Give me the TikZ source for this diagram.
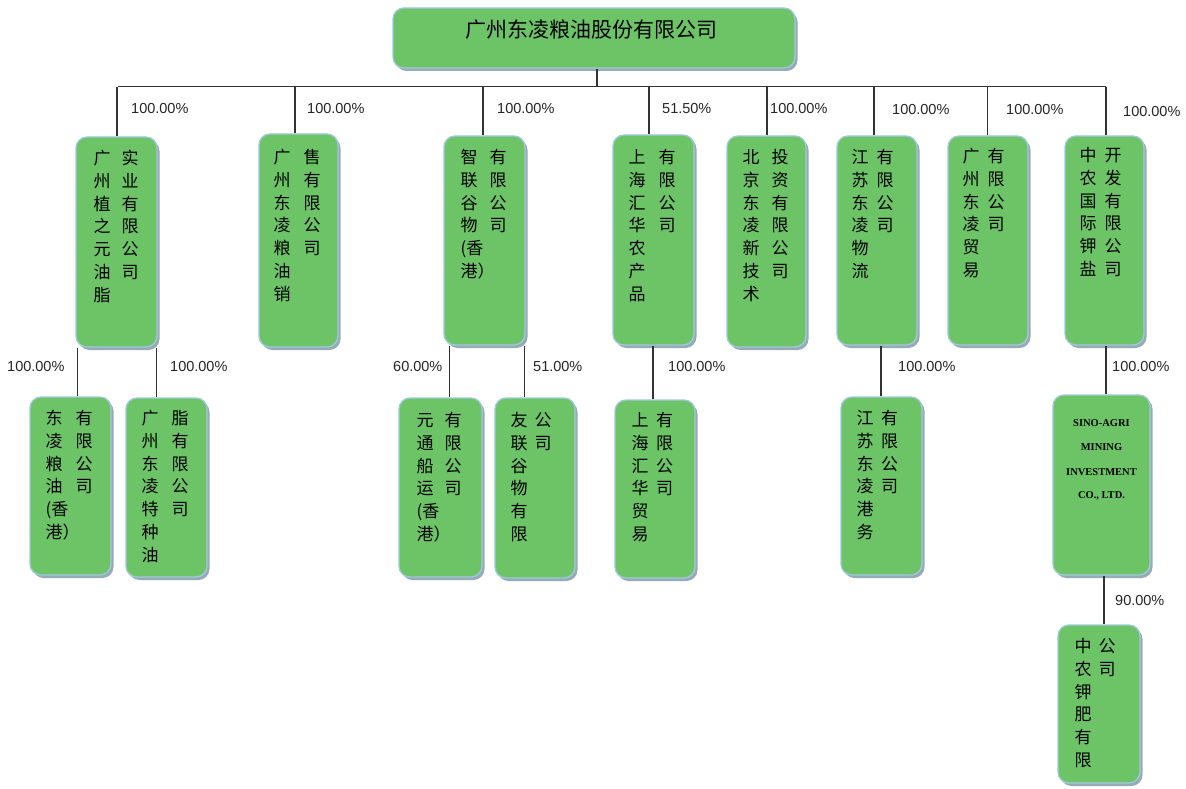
\documentclass[tikz,border=0pt]{standalone}
\usepackage{fontspec}
\setmainfont{Liberation Sans}
\newfontfamily\cjk{Noto Sans CJK SC}
\newfontfamily\sino{Liberation Serif}
\usetikzlibrary{shadows}
\definecolor{boxgreen}{RGB}{108,196,103}
\definecolor{boxedge}{RGB}{160,200,220}
\definecolor{shadowc}{RGB}{125,150,165}
\definecolor{linec}{RGB}{50,50,50}
\tikzset{
  orgbox/.style={draw=boxedge, line width=1.3pt, fill=boxgreen, rounded corners=11pt, inner sep=0pt,
    drop shadow={shadow xshift=2.5pt, shadow yshift=-3pt, fill=shadowc, opacity=0.8}},
  pct/.style={anchor=west, inner sep=0pt, font=\fontsize{14.5}{16}\selectfont, text=black!85},
  conn/.style={draw=linec, line width=1.1pt},
  ch/.style={anchor=base west, inner sep=0pt, font=\cjk\fontsize{17}{17}\selectfont},
  sinotext/.style={inner sep=0pt, font=\sino\bfseries\fontsize{10.5}{12}\selectfont},
}
\newcommand\orgbx[5]{\node[orgbox, minimum width={(#4)-(#2)}, minimum height={(#5)-(#3)}] (#1) at ({((#2)+(#4))/2},{((#3)+(#5))/2}) {};}
\newcommand\chcol[3]{\foreach \c [count=\i from 0] in {#3} {\node[ch] at ({(#1)-8.5},{(#2)+6.5+22.8*\i}) {\c};}}
\begin{document}
\begin{tikzpicture}[x=1pt,y=-1pt]
\fill[white] (0,0) rectangle (1186,789);
\useasboundingbox (0,0) rectangle (1186,789);
% boxes
\orgbx{top}{393}{8}{795}{68}
\orgbx{b1}{76}{137}{157}{347}
\orgbx{b2}{259}{134}{338}{347}
\orgbx{b3}{444}{136}{525}{345}
\orgbx{b4}{613}{135}{694}{345}
\orgbx{b5}{727}{136}{806}{347}
\orgbx{b6}{837}{136}{917}{345}
\orgbx{b7}{948}{136}{1028}{345}
\orgbx{b8}{1065}{136}{1144}{345}
\orgbx{c1a}{30}{397}{111}{575}
\orgbx{c1b}{126}{398}{207}{577}
\orgbx{c3a}{399}{398}{482}{577}
\orgbx{c3b}{495}{398}{575}{578}
\orgbx{c4a}{615}{400}{695}{578}
\orgbx{c6a}{841}{397}{922}{575}
\orgbx{c8a}{1053}{395}{1150}{575}
\orgbx{c8b}{1058}{625}{1140}{783}
% title
\node[inner sep=0pt, font=\cjk\fontsize{21}{21}\selectfont] (title) at (591,30) {广州东凌粮油股份有限公司};
% connectors level 1
\draw[conn] ([xshift=3]top.south) -- ++(0,18) coordinate (bus);
\draw[conn] ([xshift=1.5]b1.north |- bus) -- ([xshift=1.5]b8.north |- bus);
\draw[conn] ([xshift=0.5]b1.north |- bus) -- ([xshift=0.5]b1.north);
\draw[conn] ([xshift=-3.5]b2.north |- bus) -- ([xshift=-3.5]b2.north);
\draw[conn] ([xshift=-1.5]b3.north |- bus) -- ([xshift=-1.5]b3.north);
\draw[conn] ([xshift=-4.5]b4.north |- bus) -- ([xshift=-4.5]b4.north);
\draw[conn] ([xshift=0.5]b5.north |- bus) -- ([xshift=0.5]b5.north);
\draw[conn] ([xshift=-3]b6.north |- bus) -- ([xshift=-3]b6.north);
\draw[conn] ([xshift=-0.5]b7.north |- bus) -- ([xshift=-0.5]b7.north);
\draw[conn] ([xshift=1.5]b8.north |- bus) -- ([xshift=1.5]b8.north);
% connectors level 2
\draw[conn] ([xshift=2]b1.south west) -- ([xshift=2]b1.south west |- c1a.north);
\draw[conn] ([xshift=-1]b1.south east) -- ([xshift=-1]b1.south east |- c1b.north);
\draw[conn] ([xshift=6]b3.south west) -- ([xshift=6]b3.south west |- c3a.north);
\draw[conn] ([xshift=-1]b3.south east) -- ([xshift=-1]b3.south east |- c3b.north);
\draw[conn] ([xshift=-0.5]b4.south) -- ([xshift=-0.5]b4.south |- c4a.north);
\draw[conn] ([xshift=4]b6.south) -- ([xshift=4]b6.south |- c6a.north);
\draw[conn] ([xshift=1.5]b8.south) -- ([xshift=1.5]b8.south |- c8a.north);
\draw[conn] ([xshift=2.5]c8a.south) -- ([xshift=2.5]c8a.south |- c8b.north);
% percentages
\node[pct] (p1) at (131,109) {100.00\%};
\node[pct] (p2) at (307,109) {100.00\%};
\node[pct] (p3) at (497,109) {100.00\%};
\node[pct] (p4) at (662,109) {51.50\%};
\node[pct] (p5) at (770,109) {100.00\%};
\node[pct] (p6) at (892,110) {100.00\%};
\node[pct] (p7) at (1006,110) {100.00\%};
\node[pct] (p8) at (1123,112) {100.00\%};
\node[pct] (q1a) at (7,367) {100.00\%};
\node[pct] (q1b) at (170,367) {100.00\%};
\node[pct] (q3a) at (393,367) {60.00\%};
\node[pct] (q3b) at (533,367) {51.00\%};
\node[pct] (q4a) at (668,367) {100.00\%};
\node[pct] (q6a) at (898,367) {100.00\%};
\node[pct] (q8a) at (1112,367) {100.00\%};
\node[pct] (q8b) at (1115,601) {90.00\%};
% box texts
\chcol{102}{158}{广,州,植,之,元,油,脂}
\chcol{130}{158}{实,业,有,限,公,司}
\chcol{282}{157}{广,州,东,凌,粮,油,销}
\chcol{312}{157}{售,有,限,公,司}
\chcol{469}{157}{智,联,谷,物,{(香},港）}
\chcol{498}{157}{有,限,公,司}
\chcol{637}{157}{上,海,汇,华,农,产,品}
\chcol{667}{157}{有,限,公,司}
\chcol{751}{157}{北,京,东,凌,新,技,术}
\chcol{780}{157}{投,资,有,限,公,司}
\chcol{860}{157}{江,苏,东,凌,物,流}
\chcol{885}{157}{有,限,公,司}
\chcol{971}{156}{广,州,东,凌,贸,易}
\chcol{996}{156}{有,限,公,司}
\chcol{1088}{155}{中,农,国,际,钾,盐}
\chcol{1113}{155}{开,发,有,限,公,司}
\chcol{54}{418}{东,凌,粮,油,{(香},港）}
\chcol{84}{418}{有,限,公,司}
\chcol{150}{418}{广,州,东,凌,特,种,油}
\chcol{180}{418}{脂,有,限,公,司}
\chcol{425}{420}{元,通,船,运,{(香},港）}
\chcol{453}{420}{有,限,公,司}
\chcol{519}{420}{友,联,谷,物,有,限}
\chcol{543}{420}{公,司}
\chcol{640}{420}{上,海,汇,华,贸,易}
\chcol{664.5}{420}{有,限,公,司}
\chcol{865}{418}{江,苏,东,凌,港,务}
\chcol{889.5}{418}{有,限,公,司}
\chcol{1083}{646}{中,农,钾,肥,有,限}
\chcol{1107}{646}{公,司}
\node[sinotext] (s1) at (1101.5,423) {SINO-AGRI};
\node[sinotext] (s2) at (1101.5,447) {MINING};
\node[sinotext] (s3) at (1101.5,472) {INVESTMENT};
\node[sinotext] (s4) at (1101.5,496) {CO., LTD.};
\end{tikzpicture}
\end{document}
